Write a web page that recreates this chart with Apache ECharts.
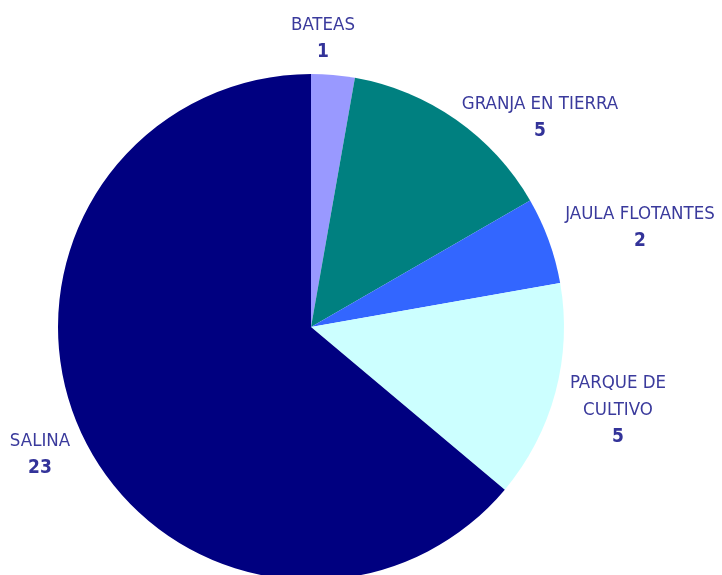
<!DOCTYPE html>
<html><head><meta charset="utf-8">
<script src="https://cdn.jsdelivr.net/npm/echarts@6/dist/echarts.min.js"></script>
<style>html,body{margin:0;padding:0;background:#fff}#c{width:722px;height:575px}</style>
</head><body><div id="c"></div>
<script>
const categories = ['BATEAS', 'GRANJA EN TIERRA', 'JAULA FLOTANTES', 'PARQUE DE\nCULTIVO', 'SALINA'];
const values = [1, 5, 2, 5, 23];
const colors = ['#9999FF', '#008080', '#3366FF', '#CCFFFF', '#000080'];
const labelPos = [[323, 39], [540, 118], [640, 228], [618, 410], [40, 455]];

const chart = echarts.init(document.getElementById('c'), null, {renderer: 'canvas'});
const font = '"Liberation Sans Narrow", "DejaVu Sans Condensed", sans-serif';
chart.setOption({
  animation: false,
  series: [{
    type: 'pie',
    center: [311, 327],
    radius: 253,
    startAngle: 90,
    clockwise: true,
    data: categories.map((c, i) => ({name: c, value: values[i], itemStyle: {color: colors[i]}})),
    labelLine: {show: false},
    label: {
      show: true,
      position: 'outside',
      overflow: 'none',
      edgeDistance: 0,
      bleedMargin: 0,
      formatter: p => '{n|' + p.name.split('\n').join('}\n{n|') + '}\n{v|' + p.value + '}',
      rich: {
        n: {fontFamily: font, fontSize: 18.5, color: '#3A3A9C', lineHeight: 27, align: 'center'},
        v: {fontFamily: font, fontSize: 19, fontWeight: 'bold', color: '#333399', lineHeight: 27, align: 'center'}
      }
    },
    labelLayout: p => ({x: labelPos[p.dataIndex][0], y: labelPos[p.dataIndex][1], align: 'center', verticalAlign: 'middle', width: 300})
  }]
});
</script></body></html>
